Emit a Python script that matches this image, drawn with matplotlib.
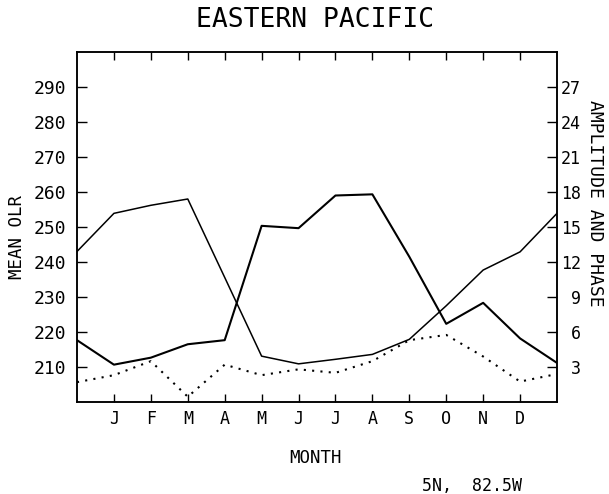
import matplotlib.pyplot as plt

plt.rcParams['font.family'] = 'DejaVu Sans Mono'

months = ['J', 'F', 'M', 'A', 'M', 'J', 'J', 'A', 'S', 'O', 'N', 'D']
# x = 0 and x = 13 are the two ends of the axis, 1..12 are the months
xpos = list(range(14))
mean_olr = [243.0, 253.9, 256.2, 258.0, 235.6, 213.1, 210.9, 212.2, 213.6,
            217.9, 227.5, 237.7, 242.9, 253.9]
# right hand scale (0-30)
amplitude = [5.3, 3.2, 3.8, 4.95, 5.3, 15.1, 14.9, 17.7, 17.8,
             12.45, 6.7, 8.5, 5.45, 3.35]
phase = [1.7, 2.3, 3.5, 0.45, 3.2, 2.3, 2.8, 2.5, 3.5,
         5.3, 5.75, 3.9, 1.75, 2.4]

fig = plt.figure(figsize=(6.09, 4.94), dpi=100)
ax = fig.add_axes([77 / 609, 1 - 402 / 494, 480 / 609, 350 / 494])
ax2 = ax.twinx()

ax.plot(xpos, mean_olr, color='black', lw=1.1)
ax2.plot(xpos, amplitude, color='black', lw=1.5)
ax2.plot(xpos, phase, color='black', lw=1.5, linestyle=(0, (1, 3)))

ax.set_xlim(0, 13)
ax.set_ylim(200, 300)
ax2.set_ylim(0, 30)
ax.set_xticks(range(1, 13))
ax.set_xticklabels(months)
ax.set_yticks(range(210, 300, 10))
ax2.set_yticks(range(3, 30, 3))

ax.tick_params(axis='x', direction='in', top=True, length=6, width=1, pad=6, labelsize=12)
ax.tick_params(axis='y', direction='in', length=7, width=1, pad=8, labelsize=13)
ax2.tick_params(axis='y', direction='in', length=7, width=1, pad=17, labelsize=12)
for t in ax2.get_yticklabels():
    t.set_ha('right')

for a in (ax, ax2):
    for s in a.spines.values():
        s.set_linewidth(1.1)

ax.set_ylabel('MEAN OLR', fontsize=12.5, va='center')
ax.yaxis.set_label_coords(-0.125, 0.471)
ax2.set_ylabel('AMPLITUDE AND PHASE', fontsize=13, rotation=-90, va='center')
ax2.yaxis.set_label_coords(1.08, 0.569)

fig.text(315 / 609, 1 - 20 / 494, 'EASTERN PACIFIC', fontsize=19, ha='center', va='center')
fig.text(316 / 609, 1 - 458 / 494, 'MONTH', fontsize=12.5, ha='center', va='center')
fig.text(472 / 609, 1 - 486 / 494, '5N,  82.5W', fontsize=12, ha='center', va='center')

fig.savefig('out.png', dpi=100)
